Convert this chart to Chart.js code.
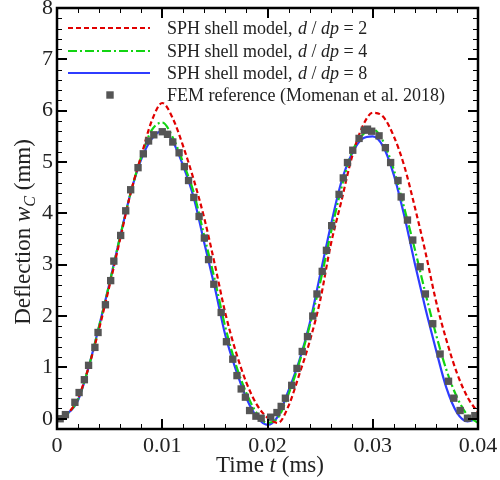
<!DOCTYPE html>
<html><head><meta charset="utf-8">
<script src="https://cdn.jsdelivr.net/npm/chart.js@4"></script>
<style>html,body{margin:0;padding:0;background:#fff}</style>
</head><body>
<canvas id="c" width="500" height="480"></canvas>
<script>
// ---- data ----
const sampleTimes = [0,0.001,0.002,0.003,0.004,0.005,0.006,0.007,0.008,0.009,
  0.010,0.011,0.012,0.013,0.014,0.015,0.016,0.017,0.018,0.019,
  0.020,0.021,0.022,0.023,0.024,0.025,0.026,0.027,0.028,0.029,
  0.030,0.031,0.032,0.033,0.034,0.035,0.036,0.037,0.038,0.039,0.040];
const sphDdp2 = [0,0.10,0.40,1.00,1.75,2.60,3.50,4.40,5.12,5.80,
  6.15,5.85,5.30,4.65,3.90,3.00,2.05,1.30,0.70,0.27,
  0.02,-0.08,0.25,0.85,1.50,2.30,3.38,4.22,5.08,5.68,
  5.96,5.88,5.50,4.92,4.12,3.25,2.30,1.53,0.89,0.42,0.12];
const sphDdp4 = [0,0.10,0.38,1.00,1.80,2.65,3.55,4.40,5.10,5.62,
  5.77,5.48,4.98,4.40,3.55,2.70,1.78,1.05,0.50,0.10,
  -0.08,0.02,0.48,1.08,1.80,2.65,3.60,4.48,5.18,5.52,
  5.64,5.40,4.85,4.10,3.30,2.45,1.65,0.95,0.42,0.07,-0.08];
const sphDdp8 = [0,0.10,0.36,1.00,1.80,2.65,3.55,4.40,5.05,5.45,
  5.60,5.40,4.92,4.30,3.42,2.55,1.62,0.95,0.40,0.03,
  -0.12,0.05,0.55,1.12,1.85,2.80,3.75,4.60,5.15,5.45,
  5.50,5.30,4.75,3.95,3.02,2.15,1.35,0.60,0.12,-0.05,0.00];
const femTime = [0.0003,0.0008,0.0017,0.0021,0.0026,0.0030,0.0036,0.0039,0.0046,0.0051,
  0.0054,0.00605,0.00653,0.0070,0.0077,0.0082,0.0087,0.0092,0.0100,0.0105,
  0.0110,0.0116,0.0121,0.0125,0.0130,0.0135,0.0140,0.0144,0.0149,0.0156,
  0.0161,0.0167,0.0171,0.0175,0.0179,0.0183,0.0189,0.0194,0.0203,0.0209,
  0.0213,0.0217,0.0223,0.0228,0.0233,0.0238,0.0243,0.0247,0.0252,0.0256,
  0.0261,0.0268,0.0272,0.0276,0.0281,0.0287,0.0292,0.0295,0.0299,0.0306,
  0.0312,0.0317,0.0324,0.0327,0.0333,0.0338,0.0345,0.0350,0.0357,0.0364,
  0.0372,0.0377,0.0383,0.0390,0.0397];
const femDefl = [0.00,0.08,0.32,0.51,0.76,1.04,1.39,1.68,2.22,2.69,
  3.07,3.57,4.05,4.46,4.89,5.16,5.41,5.53,5.59,5.54,
  5.39,5.18,4.91,4.64,4.31,3.94,3.52,3.10,2.62,2.07,
  1.50,1.16,0.84,0.58,0.42,0.16,0.05,0.01,0.03,0.12,
  0.24,0.40,0.65,0.98,1.31,1.60,2.00,2.43,2.87,3.28,
  3.76,4.37,4.69,4.99,5.23,5.46,5.62,5.64,5.60,5.51,
  5.28,4.99,4.64,4.32,3.87,3.48,2.96,2.43,1.85,1.26,
  0.73,0.40,0.16,0.01,0.06];
const xTickValues = [0,0.01,0.02,0.03,0.04];
const yTickValues = [0,1,2,3,4,5,6,7,8];
const legendLabels = ['2','4','8'];

const SERIF = "'Liberation Serif', 'Times New Roman', serif";
const RED = '#e00000', GREEN = '#12d412', BLUE = '#2f3cff', GREY = '#555555';

function pts(xs, ys){ return xs.map((t,i)=>({x:t, y:ys[i]})); }

function drawRich(ctx, parts, x, y, align){
  let total = 0;
  const fonts = parts.map(p=>{
    const size = p.sub ? p.size*0.7 : p.size;
    const f = (p.it?'italic ':'') + size + 'px ' + SERIF;
    ctx.font = f; const w = ctx.measureText(p.t).width; total += w;
    return {f, w, dy: p.sub ? p.size*0.22 : 0};
  });
  let cx = align==='center' ? x - total/2 : x;
  parts.forEach((p,i)=>{
    ctx.font = fonts[i].f;
    ctx.fillText(p.t, cx, y + fonts[i].dy);
    cx += fonts[i].w;
  });
}

const decorPlugin = {
  id:'decor',
  afterDatasetsDraw(chart){
    const {ctx, chartArea:a, scales:{x, y}} = chart;
    ctx.save();
    ctx.strokeStyle = '#000';
    const line = (x1,y1,x2,y2)=>{ctx.beginPath();ctx.moveTo(x1,y1);ctx.lineTo(x2,y2);ctx.stroke();};
    for(let i=0;i<=20;i++){
      const px = Math.round(x.getPixelForValue(i*0.002));
      const major = i%5===0, L = major?10:5;
      ctx.lineWidth = major?2:1;
      const o = major?0:0.5;
      line(px+o, a.bottom, px+o, a.bottom-L);
      line(px+o, a.top, px+o, a.top+L);
    }
    for(let i=0;i<=40;i++){
      const py = Math.round(y.getPixelForValue(i*0.2));
      const major = i%5===0, L = major?10:5;
      ctx.lineWidth = major?2:1;
      const o = major?0:0.5;
      line(a.left, py+o, a.left+L, py+o);
      line(a.right, py+o, a.right-L, py+o);
    }
    ctx.lineWidth = 2.5;
    ctx.strokeRect(a.left, a.top, a.right-a.left, a.bottom-a.top);
    ctx.restore();
  },
  afterDraw(chart){
    const {ctx} = chart;
    ctx.save();
    ctx.fillStyle = '#222';
    ctx.textBaseline = 'alphabetic';
    // legend
    const rows = [28, 51, 73, 95];
    const lx1 = 68, lx2 = 150, tx = 167;
    const styles = [{c:RED, d:[5,3]}, {c:GREEN, d:[9,3,2,3]}, {c:BLUE, d:[]}];
    const F = '18px ' + SERIF;
    styles.forEach((s,i)=>{
      ctx.strokeStyle = s.c; ctx.lineWidth = 2.2; ctx.setLineDash(s.d);
      ctx.beginPath(); ctx.moveTo(lx1, rows[i]); ctx.lineTo(lx2, rows[i]); ctx.stroke();
      ctx.setLineDash([]);
      const by = rows[i] + 6;
      ctx.font = F;  ctx.fillText('SPH shell model,', tx, by);
      drawRich(ctx, [
        {t:'d', it:true, size:18}, {t:' / ', size:18}, {t:'dp', it:true, size:18},
        {t:' = ' + legendLabels[i], size:18}
      ], tx + 131, by, 'left');
    });
    ctx.fillStyle = GREY;
    ctx.fillRect(110-3.7, rows[3]-3.7, 7.4, 7.4);
    ctx.fillStyle = '#222';
    ctx.font = F;
    ctx.fillText('FEM reference (Momenan et al. 2018)', tx, rows[3]+6);
    // x title
    drawRich(ctx, [
      {t:'Time ', size:23}, {t:'t', it:true, size:23}, {t:' (ms)', size:23}
    ], 270, 472, 'center');
    // y title
    ctx.translate(30, 232);
    ctx.rotate(-Math.PI/2);
    drawRich(ctx, [
      {t:'Deflection ', size:23}, {t:'w', it:true, size:23}, {t:'C', it:true, sub:true, size:23}, {t:' (mm)', size:23}
    ], 0, 0, 'center');
    ctx.restore();
  }
};

const tickFont = {family: SERIF, size: 22};
new Chart(document.getElementById('c'), {
  type: 'scatter',
  data: {
    datasets: [
      {label:'FEM reference (Momenan et al. 2018)', data: pts(femTime, femDefl), showLine:false,
        pointStyle:'rect', pointRadius:5.2, pointHoverRadius:5.2, backgroundColor:GREY, borderWidth:0, order:0},
      {label:'SPH shell model, d / dp = 2', data: pts(sampleTimes, sphDdp2), showLine:true,
        borderColor:RED, borderWidth:2.2, borderDash:[5,3], pointRadius:0, cubicInterpolationMode:'monotone', order:1},
      {label:'SPH shell model, d / dp = 4', data: pts(sampleTimes, sphDdp4), showLine:true,
        borderColor:GREEN, borderWidth:2.2, borderDash:[9,3,2,3], pointRadius:0, cubicInterpolationMode:'monotone', order:2},
      {label:'SPH shell model, d / dp = 8', data: pts(sampleTimes, sphDdp8), showLine:true,
        borderColor:BLUE, borderWidth:2.2, pointRadius:0, cubicInterpolationMode:'monotone', order:3}
    ]
  },
  options: {
    responsive:false, animation:false, devicePixelRatio:1,
    layout:{padding:{left:0, right:22, top:8, bottom:0}},
    plugins:{legend:{display:false}, tooltip:{enabled:false}},
    scales:{
      x:{type:'linear', min:0, max:0.04,
        grid:{display:false, drawTicks:false}, border:{display:false},
        afterBuildTicks(s){ s.ticks = xTickValues.map(v=>({value:v})); },
        afterFit(s){ s.height = 51; s.paddingLeft = 0; s.paddingRight = 0; },
        ticks:{color:'#222', font:tickFont, padding:4, maxRotation:0, autoSkip:false,
          callback:v=> v===0 ? '0' : v.toFixed(2)}},
      y:{type:'linear', min:-0.2, max:8,
        grid:{display:false, drawTicks:false}, border:{display:false},
        afterBuildTicks(s){ s.ticks = yTickValues.map(v=>({value:v})); },
        afterFit(s){ s.width = 57; s.paddingTop = 0; s.paddingBottom = 0; },
        ticks:{color:'#222', font:tickFont, padding:4, autoSkip:false,
          callback:v=> String(v)}}
    }
  },
  plugins:[decorPlugin]
});
</script>
</body></html>
